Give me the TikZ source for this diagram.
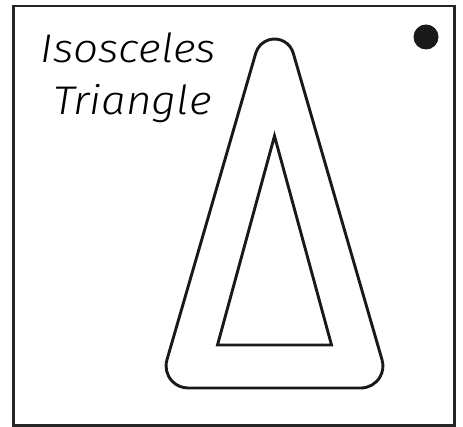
\documentclass[tikz,border=0pt]{standalone}
\usepackage{fontspec}
\newfontfamily\hand{Fira Sans Light Italic}[FakeStretch=1.1]
\begin{document}
\begin{tikzpicture}[x=1pt,y=1pt,
  frame/.style={draw=black!85,line width=2.8pt},
  outline/.style={draw=black!90,line width=2.9pt},
  lbl/.style={font=\hand\fontsize{40}{42}\selectfont,anchor=base,inner sep=0pt}]
\useasboundingbox (0,0) rectangle (463,427);
\draw[frame] (13.5,1.5) rectangle (454.5,421);
\fill[black!90] (426,390) circle (12.5);
\node[lbl] (t1) at (128.5,364) {Isosceles};
\node[lbl] (t2) at (132.5,312) {Triangle};
% outer rounded triangle
\draw[outline] (188.07,39) -- (360.93,39)
  arc[start angle=-90,end angle=16.17,radius=22]
  -- (293.23,373.93)
  arc[start angle=16.17,end angle=163.83,radius=19.5]
  -- (166.94,67.13)
  arc[start angle=163.83,end angle=270,radius=22] -- cycle;
% inner triangle
\draw[outline,line join=miter] (274.5,291) -- (331.5,82) -- (217.5,82) -- cycle;
\end{tikzpicture}
\end{document}
